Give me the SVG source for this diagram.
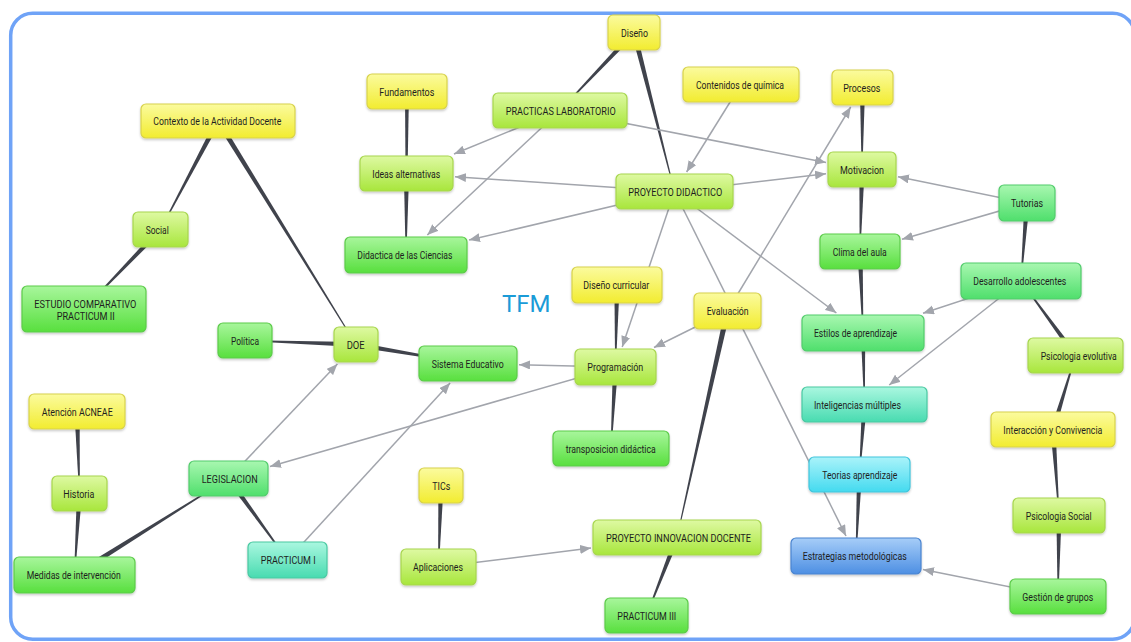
<svg xmlns="http://www.w3.org/2000/svg" width="1131" height="642" viewBox="0 0 1131 642">
<defs>
<style>
.node rect{stroke-width:1.2;filter:url(#sh)}
.node text{font-family:Roboto,"Liberation Sans",sans-serif;font-size:11px;fill:#1e1e1e}
.y rect{fill:url(#gy);stroke:#d8d24c}
.l rect{fill:url(#gl);stroke:#a7d64e}
.g rect{fill:url(#gg);stroke:#5ccb4a}
.m rect{fill:url(#gm);stroke:#52cc6c}
.t rect{fill:url(#gt);stroke:#4ac9a2}
.c rect{fill:url(#gc);stroke:#42c5dc}
.b rect{fill:url(#gb);stroke:#4a84d0}
.link{fill:#40434c}
.arrow{stroke:#a2a5ac;stroke-width:1.5;fill:none;marker-end:url(#ah)}
</style>
<filter id="sh" x="-10%" y="-20%" width="120%" height="150%"><feDropShadow dx="0" dy="1.5" stdDeviation="1.2" flood-color="#000" flood-opacity="0.22"/></filter>
<linearGradient id="gy" x1="0" y1="0" x2="0" y2="1"><stop offset="0" stop-color="#fbfb9e"/><stop offset="1" stop-color="#f2ec30"/></linearGradient>
<linearGradient id="gl" x1="0" y1="0" x2="0" y2="1"><stop offset="0" stop-color="#def9a2"/><stop offset="1" stop-color="#a8e63c"/></linearGradient>
<linearGradient id="gg" x1="0" y1="0" x2="0" y2="1"><stop offset="0" stop-color="#a8f69c"/><stop offset="1" stop-color="#58df3e"/></linearGradient>
<linearGradient id="gm" x1="0" y1="0" x2="0" y2="1"><stop offset="0" stop-color="#a8f7b0"/><stop offset="1" stop-color="#4fdf6c"/></linearGradient>
<linearGradient id="gt" x1="0" y1="0" x2="0" y2="1"><stop offset="0" stop-color="#aaf7e0"/><stop offset="1" stop-color="#48dbb0"/></linearGradient>
<linearGradient id="gc" x1="0" y1="0" x2="0" y2="1"><stop offset="0" stop-color="#aaf3fa"/><stop offset="1" stop-color="#44daef"/></linearGradient>
<linearGradient id="gb" x1="0" y1="0" x2="0" y2="1"><stop offset="0" stop-color="#a6cdf8"/><stop offset="1" stop-color="#4d8fe3"/></linearGradient>
<marker id="ah" markerUnits="userSpaceOnUse" markerWidth="12" markerHeight="10" refX="11" refY="4.5" orient="auto"><path d="M0,0 L11,4.5 L0,9 Z" fill="#a2a5ac"/></marker>
</defs>
<rect x="0" y="0" width="1131" height="642" fill="#ffffff"/>
<rect id="frame" x="10.7" y="13.3" width="1124" height="626" rx="22" fill="none" stroke="#6fa3f7" stroke-width="3.5"/>

<g id="connectors">
<polygon class="link" points="215.70,119.78 160.15,229.31 160.85,229.69 220.30,122.22"/>
<polygon class="link" points="215.79,122.37 355.66,344.71 356.34,344.29 220.21,119.63"/>
<polygon class="link" points="158.63,227.70 83.71,308.72 84.29,309.28 162.37,231.30"/>
<polygon class="link" points="632.11,30.71 559.71,110.22 560.29,110.78 635.89,34.29"/>
<polygon class="link" points="631.48,33.14 674.11,191.60 674.89,191.40 636.52,31.86"/>
<polygon class="link" points="405,91.5 405.5,173.5 407.5,173.5 409,91.5"/>
<polygon class="link" points="403.9,173.5 405.6,255 406.4,255 409.1,173.5"/>
<polygon class="link" points="859.9,87.5 861.6,169.5 862.4,169.5 865.1,87.5"/>
<polygon class="link" points="859.4,169.5 859.6,251.5 860.4,251.5 864.6,169.5"/>
<polygon class="link" points="857.4,251.5 862.6,333 863.4,333 862.6,251.5"/>
<polygon class="link" points="1024.4,203 1020.6,281 1021.4,281 1029.6,203"/>
<polygon class="link" points="1077.55,353.90 1021.32,280.75 1020.68,281.25 1073.45,357.10"/>
<polygon class="link" points="1055.45,430.36 1075.88,355.63 1075.12,355.37 1050.55,428.64"/>
<polygon class="link" points="1050.4,429.5 1058.6,515.5 1059.4,515.5 1055.6,429.5"/>
<polygon class="link" points="1056.4,515.5 1057.6,596.5 1058.4,596.5 1061.6,515.5"/>
<polygon class="link" points="860.8,333 864.1,404.5 864.9,404.5 865.2,333"/>
<polygon class="link" points="862,404.5 859.1,474.5 859.9,474.5 867,404.5"/>
<polygon class="link" points="857,474.5 855.6,556 856.4,556 862,474.5"/>
<polygon class="link" points="724.77,310.39 676.61,537.41 677.39,537.59 730.23,311.61"/>
<polygon class="link" points="674.58,536.55 646.13,615.35 646.87,615.65 679.42,538.45"/>
<polygon class="link" points="614.4,285 615.1,367 615.9,367 619.6,285"/>
<polygon class="link" points="612.9,367 610.6,448.5 611.4,448.5 618.1,367"/>
<polygon class="link" points="438.4,485.5 438.1,567 438.9,567 443.6,485.5"/>
<polygon class="link" points="356,341.9 245,340.1 245,340.9 356,347.1"/>
<polygon class="link" points="355.57,347.06 467.93,363.89 468.07,363.11 356.43,341.94"/>
<polygon class="link" points="74.4,411.5 79.1,493.5 79.9,493.5 79.6,411.5"/>
<polygon class="link" points="76.9,493.5 74.1,575 74.9,575 82.1,493.5"/>
<polygon class="link" points="75.99,577.37 228.71,478.84 228.29,478.16 73.01,572.63"/>
<polygon class="link" points="226.39,480.02 287.18,560.23 287.82,559.77 230.61,476.98"/>

<line class="arrow" x1="560" y1="110.5" x2="454" y2="154"/>
<line class="arrow" x1="560" y1="110.5" x2="427.3" y2="235"/>
<line class="arrow" x1="560" y1="110.5" x2="826" y2="162.5"/>
<line class="arrow" x1="674.5" y1="191.5" x2="455" y2="176.8"/>
<line class="arrow" x1="674.5" y1="191.5" x2="469" y2="240.1"/>
<line class="arrow" x1="741" y1="84.5" x2="686.6" y2="172"/>
<line class="arrow" x1="674.5" y1="191.5" x2="826" y2="173.7"/>
<line class="arrow" x1="674.5" y1="191.5" x2="622.2" y2="347"/>
<line class="arrow" x1="674.5" y1="191.5" x2="846" y2="536"/>
<line class="arrow" x1="674.5" y1="191.5" x2="836.4" y2="313"/>
<line class="arrow" x1="727.5" y1="311" x2="850.7" y2="107"/>
<line class="arrow" x1="727.5" y1="311" x2="654" y2="347.5"/>
<line class="arrow" x1="615.5" y1="367" x2="519" y2="364.7"/>
<line class="arrow" x1="615.5" y1="367" x2="270" y2="466.5"/>
<line class="arrow" x1="287.5" y1="560" x2="450.1" y2="383"/>
<line class="arrow" x1="228.5" y1="478.5" x2="337.4" y2="364"/>
<line class="arrow" x1="438.5" y1="567" x2="591" y2="548.1"/>
<line class="arrow" x1="1027" y1="203" x2="898" y2="176.8"/>
<line class="arrow" x1="1027" y1="203" x2="902" y2="239.3"/>
<line class="arrow" x1="1021" y1="281" x2="923" y2="313.3"/>
<line class="arrow" x1="1021" y1="281" x2="889.2" y2="385"/>
<line class="arrow" x1="1058" y1="596.5" x2="923" y2="569.4"/>
</g>

<text id="title" x="502" y="312.3" font-family="Roboto,'Liberation Sans',sans-serif" font-size="24" fill="#1b9bd7">TFM</text>

<g id="n-contexto" class="node y"><rect x="141" y="104" width="154" height="34" rx="5"/><text x="153.3" y="125.3" textLength="128" lengthAdjust="spacingAndGlyphs">Contexto de la Actividad Docente</text></g>
<g id="n-social" class="node l"><rect x="133" y="212" width="55" height="35" rx="5"/><text x="145.7" y="233.8" textLength="23" lengthAdjust="spacingAndGlyphs">Social</text></g>
<g id="n-estudio" class="node g"><rect x="22" y="286" width="124" height="46" rx="5"/><text x="34.3" y="307.5" textLength="102" lengthAdjust="spacingAndGlyphs">ESTUDIO COMPARATIVO</text><text x="56.7" y="319.5" textLength="58" lengthAdjust="spacingAndGlyphs">PRACTICUM II</text></g>
<g id="n-diseno" class="node y"><rect x="608" y="15" width="52" height="35" rx="5"/><text x="621" y="36.8" textLength="27" lengthAdjust="spacingAndGlyphs">Diseño</text></g>
<g id="n-fundamentos" class="node y"><rect x="367" y="74" width="80" height="35" rx="5"/><text x="379.3" y="95.8" textLength="55" lengthAdjust="spacingAndGlyphs">Fundamentos</text></g>
<g id="n-practicas" class="node l"><rect x="493" y="93" width="134" height="35" rx="5"/><text x="505.7" y="114.8" textLength="110" lengthAdjust="spacingAndGlyphs">PRACTICAS LABORATORIO</text></g>
<g id="n-contenidos" class="node y"><rect x="683" y="67" width="116" height="35" rx="5"/><text x="696" y="88.8" textLength="88" lengthAdjust="spacingAndGlyphs">Contenidos de química</text></g>
<g id="n-ideas" class="node l"><rect x="360" y="156" width="93" height="35" rx="5"/><text x="372.3" y="177.8" textLength="68" lengthAdjust="spacingAndGlyphs">Ideas alternativas</text></g>
<g id="n-proyecto" class="node l"><rect x="616" y="174" width="117" height="35" rx="5"/><text x="628.3" y="195.8" textLength="94" lengthAdjust="spacingAndGlyphs">PROYECTO DIDACTICO</text></g>
<g id="n-didactica" class="node g"><rect x="345" y="237" width="122" height="36" rx="5"/><text x="357.3" y="259.3" textLength="95" lengthAdjust="spacingAndGlyphs">Didactica de las Ciencias</text></g>
<g id="n-disenocurricular" class="node y"><rect x="572" y="267" width="90" height="36" rx="5"/><text x="583.3" y="289.3" textLength="66" lengthAdjust="spacingAndGlyphs">Diseño curricular</text></g>
<g id="n-procesos" class="node y"><rect x="832" y="70" width="61" height="35" rx="5"/><text x="843.3" y="91.8" textLength="37" lengthAdjust="spacingAndGlyphs">Procesos</text></g>
<g id="n-motivacion" class="node l"><rect x="828" y="152" width="68" height="35" rx="5"/><text x="840" y="173.8" textLength="44" lengthAdjust="spacingAndGlyphs">Motivacion</text></g>
<g id="n-tutorias" class="node m"><rect x="999" y="185" width="56" height="36" rx="5"/><text x="1011" y="207.3" textLength="32" lengthAdjust="spacingAndGlyphs">Tutorias</text></g>
<g id="n-clima" class="node g"><rect x="820" y="234" width="80" height="35" rx="5"/><text x="832.7" y="255.8" textLength="54" lengthAdjust="spacingAndGlyphs">Clima del aula</text></g>
<g id="n-desarrollo" class="node m"><rect x="961" y="263" width="120" height="36" rx="5"/><text x="973.3" y="285.3" textLength="93" lengthAdjust="spacingAndGlyphs">Desarrollo adolescentes</text></g>
<g id="n-estilos" class="node m"><rect x="802" y="315" width="122" height="36" rx="5"/><text x="814" y="337.3" textLength="83" lengthAdjust="spacingAndGlyphs">Estilos de aprendizaje</text></g>
<g id="n-psicoevolutiva" class="node l"><rect x="1028" y="338" width="95" height="35" rx="5"/><text x="1040.7" y="359.6" font-size="10" textLength="76" lengthAdjust="spacingAndGlyphs" style="font-size:10px">Psicologia evolutiva</text></g>
<g id="n-inteligencias" class="node t"><rect x="802" y="387" width="125" height="35" rx="5"/><text x="814" y="408.8" textLength="87" lengthAdjust="spacingAndGlyphs">Inteligencias múltiples</text></g>
<g id="n-interaccion" class="node y"><rect x="991" y="412" width="124" height="35" rx="5"/><text x="1003.3" y="433.8" textLength="99" lengthAdjust="spacingAndGlyphs">Interacción y Convivencia</text></g>
<g id="n-teorias" class="node c"><rect x="809" y="457" width="101" height="35" rx="5"/><text x="822.3" y="478.8" textLength="75" lengthAdjust="spacingAndGlyphs">Teorias aprendizaje</text></g>
<g id="n-psicosocial" class="node l"><rect x="1013" y="498" width="92" height="35" rx="5"/><text x="1025.7" y="519.8" textLength="66" lengthAdjust="spacingAndGlyphs">Psicologia Social</text></g>
<g id="n-estrategias" class="node b"><rect x="791" y="538" width="130" height="36" rx="5"/><text x="802.7" y="560.3" textLength="104" lengthAdjust="spacingAndGlyphs">Estrategias metodológicas</text></g>
<g id="n-gestion" class="node g"><rect x="1010" y="579" width="96" height="35" rx="5"/><text x="1022.3" y="600.8" textLength="71" lengthAdjust="spacingAndGlyphs">Gestión de grupos</text></g>
<g id="n-politica" class="node g"><rect x="218" y="323" width="54" height="35" rx="5"/><text x="231" y="344.8" textLength="28" lengthAdjust="spacingAndGlyphs">Política</text></g>
<g id="n-doe" class="node l"><rect x="334" y="327" width="44" height="35" rx="5"/><text x="346.7" y="348.8" textLength="18" lengthAdjust="spacingAndGlyphs">DOE</text></g>
<g id="n-atencion" class="node y"><rect x="29" y="394" width="96" height="35" rx="5"/><text x="41.7" y="415.8" textLength="71" lengthAdjust="spacingAndGlyphs">Atención ACNEAE</text></g>
<g id="n-legislacion" class="node m"><rect x="189" y="461" width="79" height="35" rx="5"/><text x="201.7" y="482.8" textLength="56" lengthAdjust="spacingAndGlyphs">LEGISLACION</text></g>
<g id="n-historia" class="node l"><rect x="52" y="476" width="55" height="35" rx="5"/><text x="63.3" y="497.8" textLength="31" lengthAdjust="spacingAndGlyphs">Historia</text></g>
<g id="n-practicum1" class="node t"><rect x="248" y="542" width="79" height="36" rx="5"/><text x="260.7" y="564.3" textLength="55" lengthAdjust="spacingAndGlyphs">PRACTICUM I</text></g>
<g id="n-medidas" class="node g"><rect x="14" y="557" width="121" height="36" rx="5"/><text x="26.7" y="579.3" textLength="94" lengthAdjust="spacingAndGlyphs">Medidas de intervención</text></g>
<g id="n-sistema" class="node g"><rect x="419" y="346" width="98" height="35" rx="5"/><text x="431.7" y="367.8" textLength="72" lengthAdjust="spacingAndGlyphs">Sistema Educativo</text></g>
<g id="n-programacion" class="node l"><rect x="575" y="349" width="81" height="36" rx="5"/><text x="587.3" y="371.3" textLength="56" lengthAdjust="spacingAndGlyphs">Programación</text></g>
<g id="n-evaluacion" class="node y"><rect x="694" y="293" width="67" height="36" rx="5"/><text x="706.7" y="315.3" textLength="42" lengthAdjust="spacingAndGlyphs">Evaluación</text></g>
<g id="n-transposicion" class="node g"><rect x="553" y="431" width="116" height="35" rx="5"/><text x="565.7" y="452.8" textLength="90" lengthAdjust="spacingAndGlyphs">transposicion didáctica</text></g>
<g id="n-tics" class="node y"><rect x="419" y="468" width="44" height="35" rx="5"/><text x="432.3" y="489.8" textLength="18" lengthAdjust="spacingAndGlyphs">TICs</text></g>
<g id="n-aplicaciones" class="node l"><rect x="401" y="549" width="75" height="36" rx="5"/><text x="413" y="571.3" textLength="50" lengthAdjust="spacingAndGlyphs">Aplicaciones</text></g>
<g id="n-innovacion" class="node l"><rect x="593" y="520" width="168" height="35" rx="5"/><text x="606" y="541.8" textLength="145" lengthAdjust="spacingAndGlyphs">PROYECTO INNOVACION DOCENTE</text></g>
<g id="n-practicum3" class="node g"><rect x="605" y="598" width="83" height="35" rx="5"/><text x="617.3" y="619.8" textLength="59" lengthAdjust="spacingAndGlyphs">PRACTICUM III</text></g>
</svg>
